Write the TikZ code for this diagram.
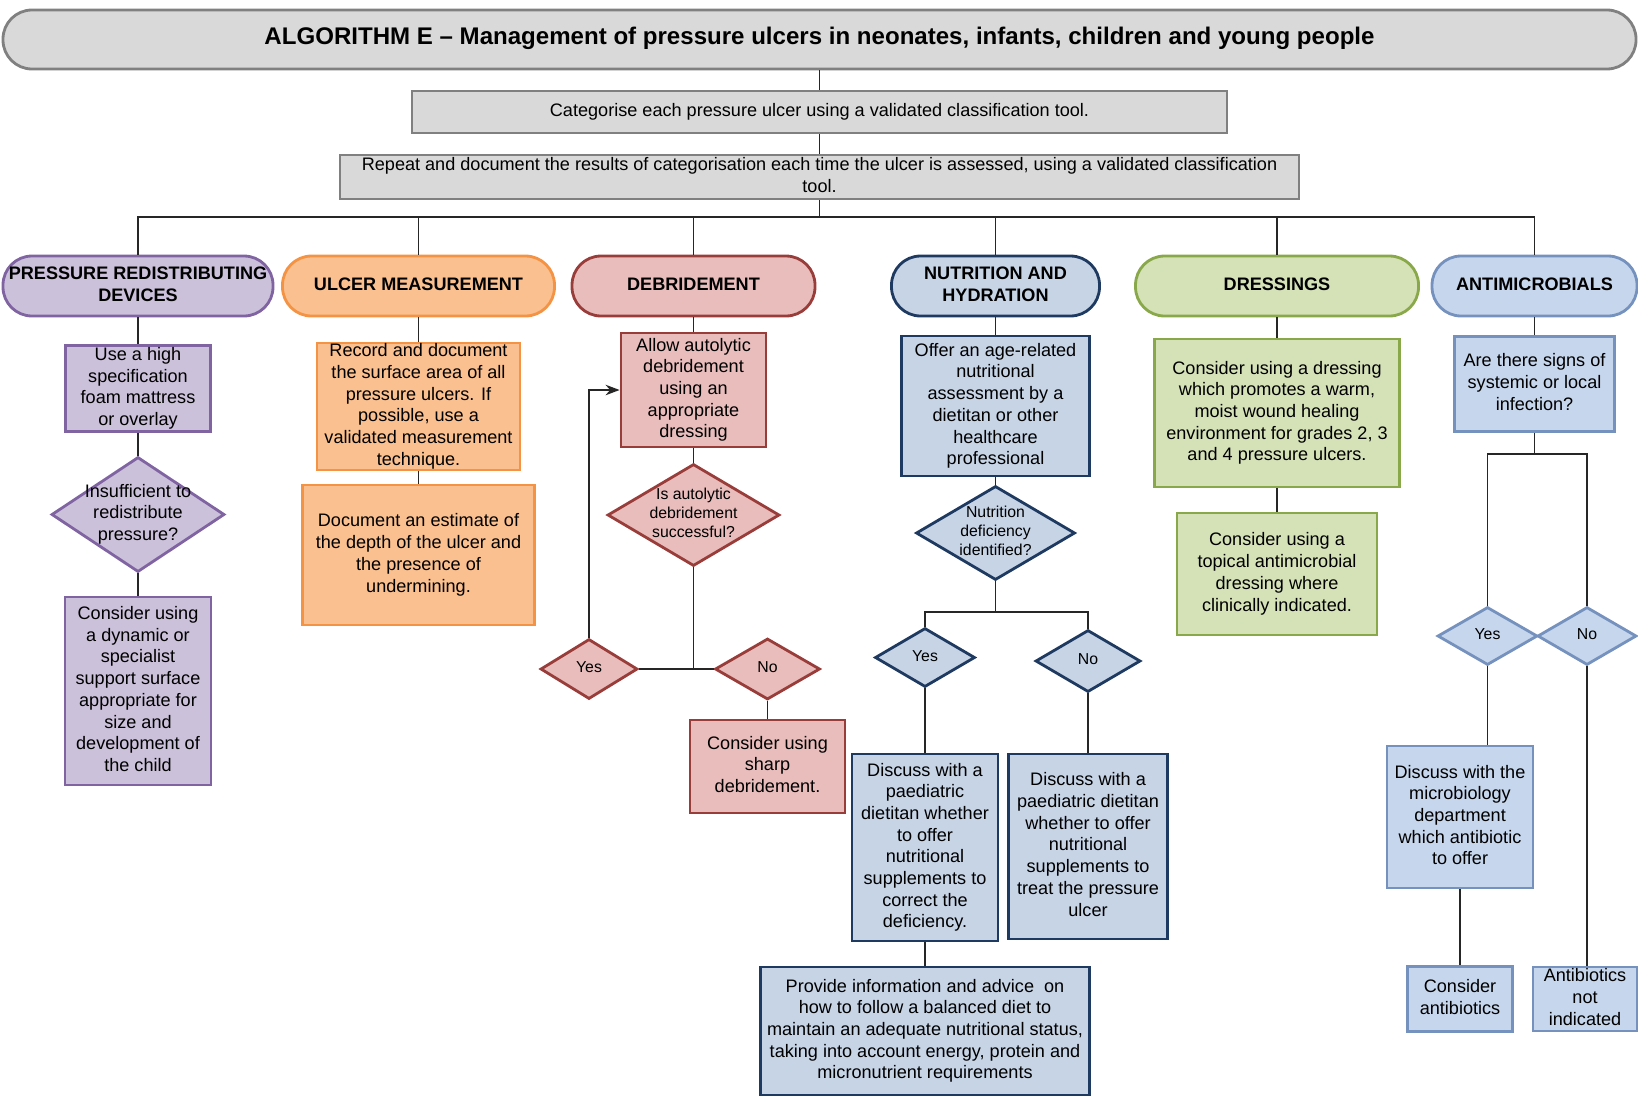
\documentclass[tikz,border=0pt]{standalone}
\usepackage{fontspec}
\setmainfont{Liberation Sans}
\usetikzlibrary{positioning,shapes.geometric,arrows.meta}

\definecolor{greyfill}{HTML}{D9D9D9}
\definecolor{greyline}{HTML}{808080}
\definecolor{prdfill}{HTML}{CCC1DA}
\definecolor{prdline}{HTML}{8064A2}
\definecolor{umfill}{HTML}{FAC090}
\definecolor{umline}{HTML}{F39343}
\definecolor{debfill}{HTML}{E8BDBC}
\definecolor{debline}{HTML}{993D3B}
\definecolor{nutfill}{HTML}{C6D4E6}
\definecolor{nutline}{HTML}{1F3A60}
\definecolor{dressfill}{HTML}{D5E2B8}
\definecolor{dressline}{HTML}{89A84A}
\definecolor{antifill}{HTML}{C6D6EC}
\definecolor{antiline}{HTML}{7591BD}

\newcommand\celltext[1]{\smash{\raisebox{-0.25em}{\makebox[0pt]{\begin{tabular}{@{}c@{}}#1\end{tabular}}}}}

\begin{document}
\begin{tikzpicture}[x=0.02cm, y=-0.02cm, >={Stealth[length=8pt,width=6pt]},
  flow/.style={draw, line width=1.6pt, inner sep=0pt, text=black, font=\fontsize{10.3}{12.35}\selectfont},
  boxsize/.style 2 args={minimum width=#1*0.02cm, minimum height=#2*0.02cm},
  box/.style={flow, rectangle},
  pill/.style={flow, rectangle, rounded corners=0.58cm, minimum height=1.2cm, font=\bfseries\fontsize{10.3}{12.35}\selectfont},
  query/.style={flow, diamond, font=\fontsize{9}{10.9}\selectfont},
  col grey/.style={draw=greyline, fill=greyfill},
  col prd/.style={draw=prdline, fill=prdfill},
  col um/.style={draw=umline, fill=umfill},
  col deb/.style={draw=debline, fill=debfill},
  col nut/.style={draw=nutline, fill=nutfill},
  col dress/.style={draw=dressline, fill=dressfill},
  col anti/.style={draw=antiline, fill=antifill},
  link/.style={draw=black!85, line width=0.8pt}]

\useasboundingbox (0,0) rectangle (1638,1096);

\node [pill, col grey, boxsize={1633}{59}, font=\bfseries\fontsize{13.7}{16}\selectfont] (title) at (819.5,39.5)
  {\celltext{ALGORITHM E – Management of pressure ulcers in neonates, infants, children and young people}};
\node [box, col grey, boxsize={815}{42}] (cat) at (819.5,112)
  {\celltext{Categorise each pressure ulcer using a validated classification tool.}};
\node [box, col grey, boxsize={959}{44}] (rep) at (819.5,177)
  {\celltext{Repeat and document the results of categorisation each time the ulcer is assessed, using a validated classification\\tool.}};
\coordinate (bus) at (819.5,217);

\foreach \n/\x/\w/\c/\t in {1/138/270/prd/{PRESSURE REDISTRIBUTING\\DEVICES}, 2/418.5/272/um/{ULCER MEASUREMENT},
    3/693.5/243/deb/DEBRIDEMENT, 4/995.5/208/nut/{NUTRITION AND\\HYDRATION},
    5/1277/283/dress/DRESSINGS, 6/1534.5/205/anti/ANTIMICROBIALS}
  \node [pill, col \c, minimum width=\w*0.02cm] (head-\n) at (\x,286) {\celltext{\t}};

\node [box, col prd, boxsize={145}{86}] (prd-1) at (138,388.5)
  {\celltext{Use a high\\specification\\foam mattress\\or overlay}};
\node [query, col prd, boxsize={173}{115}, font=\fontsize{10.3}{12.35}\selectfont] (prd-2) at (138,514.5)
  {\celltext{Insufficient to\\redistribute\\pressure?}};
\node [box, col prd, boxsize={146}{188}] (prd-3) at (138,691)
  {\celltext{Consider using\\a dynamic or\\specialist\\support surface\\appropriate for\\size and\\development of\\the child}};

\node [box, col um, boxsize={203}{127}] (um-1) at (418.5,406.5)
  {\celltext{Record and document\\the surface area of all\\pressure ulcers. If\\possible, use a\\validated measurement\\technique.}};
\node [box, col um, boxsize={232}{140}] (um-2) at (418.5,555)
  {\celltext{Document an estimate of\\the depth of the ulcer and\\the presence of\\undermining.}};

\node [box, col deb, boxsize={145}{114}] (deb-1) at (693.5,390)
  {\celltext{Allow autolytic\\debridement\\using an\\appropriate\\dressing}};
\node [query, col deb, boxsize={172}{102}] (deb-2) at (693.5,515)
  {\celltext{Is autolytic\\debridement\\successful?}};
\coordinate (deb-split) at (693.5,669);
\node [query, col deb, boxsize={97}{60}] (deb-yes) at (589,669) {\celltext{Yes}};
\node [query, col deb, boxsize={105}{61}] (deb-no) at (767.5,669) {\celltext{No}};
\node [box, col deb, boxsize={155}{93}] (deb-3) at (767.5,766.5)
  {\celltext{Consider using\\sharp\\debridement.}};

\node [box, col nut, boxsize={188}{140}] (nut-1) at (995.5,406)
  {\celltext{Offer an age-related\\nutritional\\assessment by a\\dietitan or other\\healthcare\\professional}};
\node [query, col nut, boxsize={159}{94}] (nut-2) at (995.5,533)
  {\celltext{Nutrition\\deficiency\\identified?}};
\coordinate (nut-split) at (995.5,612);
\node [query, col nut, boxsize={100}{59}] (nut-yes) at (925,657.5) {\celltext{Yes}};
\node [query, col nut, boxsize={105}{62}] (nut-no) at (1088,661) {\celltext{No}};
\node [box, col nut, boxsize={146}{187}] (nut-3) at (925,847.5)
  {\celltext{Discuss with a\\paediatric\\dietitan whether\\to offer\\nutritional\\supplements to\\correct the\\deficiency.}};
\node [box, col nut, boxsize={159}{185}] (nut-4) at (1088,846.5)
  {\celltext{Discuss with a\\paediatric dietitan\\whether to offer\\nutritional\\supplements to\\treat the pressure\\ulcer}};
\node [box, col nut, boxsize={329}{128}] (nut-5) at (925,1031)
  {\celltext{Provide information and advice~ on\\how to follow a balanced diet to\\maintain an adequate nutritional status,\\taking into account energy, protein and\\micronutrient requirements}};

\node [box, col dress, boxsize={245}{148}] (dress-1) at (1277,413)
  {\celltext{Consider using a dressing\\which promotes a warm,\\moist wound healing\\environment for grades 2, 3\\and 4 pressure ulcers.}};
\node [box, col dress, boxsize={200}{122}] (dress-2) at (1277,574)
  {\celltext{Consider using a\\topical antimicrobial\\dressing where\\clinically indicated.}};

\node [box, col anti, boxsize={160}{95}] (anti-1) at (1534.5,384)
  {\celltext{Are there signs of\\systemic or local\\infection?}};
\coordinate (anti-split) at (1534.5,454);
\node [query, col anti, boxsize={100}{58}] (anti-yes) at (1487.5,636) {\celltext{Yes}};
\node [query, col anti, boxsize={99}{58}] (anti-no) at (1587,636) {\celltext{No}};
\node [box, col anti, boxsize={146}{142}] (anti-2) at (1460,817)
  {\celltext{Discuss with the\\microbiology\\department\\which antibiotic\\to offer}};
\node [box, col anti, boxsize={105}{65}] (anti-3) at (1460,999)
  {\celltext{Consider\\antibiotics}};
\node [box, col anti, boxsize={104}{64}] (anti-4) at (1585,999)
  {\celltext{Antibiotics\\not\\indicated}};

\foreach \a/\b in {title/cat, cat/rep, rep/bus, head-1/prd-1, prd-1/prd-2, prd-2/prd-3,
    head-2/um-1, um-1/um-2, head-3/deb-1, deb-1/deb-2, deb-2/deb-split, deb-yes/deb-no, deb-no/deb-3,
    head-4/nut-1, nut-1/nut-2, nut-2/nut-split, nut-yes/nut-3, nut-no/nut-4, nut-3/nut-5,
    head-5/dress-1, dress-1/dress-2, head-6/anti-1, anti-1/anti-split, anti-2/anti-3}
  \draw [link] (\a) -- (\b);

\foreach \n in {1,...,6}
  \draw [link] (head-\n) |- (bus);

\draw [link, ->] (deb-yes) |- (deb-1);
\draw [link] (nut-yes) |- (nut-split) -| (nut-no);
\draw [link] (anti-yes) |- (anti-split) -| (anti-no);
\draw [link] (anti-yes) -- (anti-yes |- anti-2.north);
\draw [link] (anti-no) -- (anti-no |- anti-4.north);
\end{tikzpicture}
\end{document}
